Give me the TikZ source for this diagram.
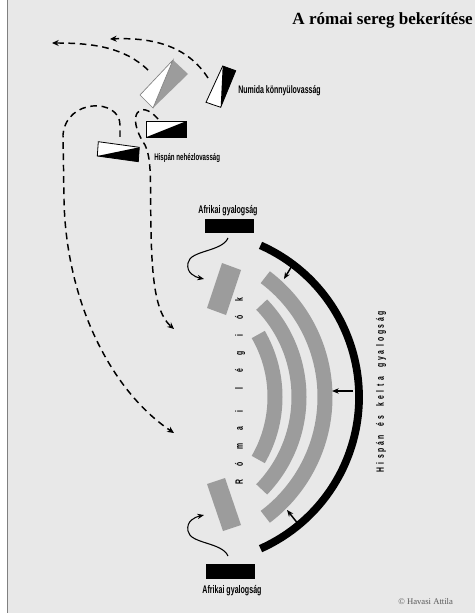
\documentclass[tikz,border=0pt]{standalone}
\usepackage{fontspec}
\setmainfont{Liberation Serif}
\newfontfamily\condfont[FakeStretch=0.64]{Liberation Sans}
\usetikzlibrary{arrows.meta,calc}
\definecolor{bgcol}{HTML}{E8E8E8}
\definecolor{legiongray}{HTML}{9C9C9C}
\newcommand\rl[1]{\makebox[13.3pt]{#1}}
\newcommand\hk[1]{\makebox[4.9pt]{#1}}
\begin{document}
\begin{tikzpicture}[x=0.75pt,y=-0.75pt,
  unitbox/.style={draw=black, line width=0.6pt},
  legion/.style={draw=legiongray, line width=11.25pt},
  march/.style={dash pattern=on 5pt off 3.5pt, line width=1.1pt, -{Stealth[length=5pt,width=4.5pt]}},
  push/.style={line width=1.1pt, -{Stealth[length=5pt,width=4pt]}},
  swing/.style={line width=0.8pt, -{Stealth[length=5pt,width=4pt]}},
  lbl/.style={inner sep=0pt, font=\condfont\bfseries\fontsize{8.2}{9}\selectfont},
  vlbl/.style={inner sep=0pt, rotate=90, font=\condfont\bfseries\fontsize{8}{9}\selectfont}]
\useasboundingbox (0,0) rectangle (475,613);
\fill[white] (0,0) rectangle (475,613);
\fill[bgcol] (7.5,0) rectangle (475,613);
\draw[gray, line width=0.8pt] (7.5,0) -- (7.5,613);

% title
\node[anchor=base east, inner sep=0pt, font=\bfseries\fontsize{12.8}{15}\selectfont] (title) at (473,25) {A római sereg bekerítése};

% big cavalry unit (white/gray)
\coordinate (bpA) at (173,60);
\coordinate (bpB) at (188,74);
\coordinate (bpC) at (153,108);
\coordinate (bpD) at (140,95);
\fill[legiongray] (bpA) -- (bpB) -- (bpC) -- cycle;
\filldraw[fill=white, draw=gray, line width=0.5pt] (bpA) -- (bpD) -- (bpC) -- cycle;

% Numida unit
\coordinate (nuTL) at (222.7,66);
\coordinate (nuTR) at (235.7,70.7);
\coordinate (nuBR) at (220.7,107.3);
\coordinate (nuBL) at (206,102.3);
\fill[white] (nuTL) -- (nuBL) -- (nuBR) -- cycle;
\fill[black] (nuTL) -- (nuTR) -- (nuBR) -- cycle;
\draw[unitbox] (nuTL) -- (nuTR) -- (nuBR) -- (nuBL) -- cycle;
\node[lbl, anchor=west] (numida) at (238,91) {Numida könnyülovasság};

% Hispan heavy cavalry (two units)
\coordinate (h1TL) at (146,121);
\coordinate (h1TR) at (186.7,121);
\coordinate (h1BR) at (186.7,137.3);
\coordinate (h1BL) at (146,137.3);
\fill[white] (h1TL) -- (h1TR) -- (h1BL) -- cycle;
\fill[black] (h1TR) -- (h1BR) -- (h1BL) -- cycle;
\draw[unitbox] (h1TL) -- (h1TR) -- (h1BR) -- (h1BL) -- cycle;

\coordinate (h2TL) at (98.3,141.7);
\coordinate (h2TR) at (139.3,147.3);
\coordinate (h2BR) at (138.3,161.7);
\coordinate (h2BL) at (97.3,156);
\fill[white] (h2TL) -- (h2TR) -- (h2BL) -- cycle;
\fill[black] (h2TR) -- (h2BR) -- (h2BL) -- cycle;
\draw[unitbox] (h2TL) -- (h2TR) -- (h2BR) -- (h2BL) -- cycle;
\node[lbl, anchor=west, font=\condfont\bfseries\fontsize{7.2}{9}\selectfont] (hispcav) at (154,158) {Hispán nehézlovasság};

% cavalry movements
\coordinate (mA0) at (148,70);
\coordinate (mA1) at (52,43);
\draw[march] (mA0) .. controls (125,48) and (95,43) .. (mA1);
\coordinate (mB0) at (208,78);
\coordinate (mB1) at (110,39);
\draw[march] (mB0) .. controls (190,50) and (160,37) .. (mB1);
\coordinate (mC0) at (120,137);
\coordinate (mC1) at (174,433);
\draw[march] (mC0) -- (120,125) .. controls (120,98) and (66,98) .. (63,135) -- (64,200) .. controls (66,300) and (110,390) .. (mC1);
\coordinate (mD0) at (158,119);
\coordinate (mD1) at (174,329);
\draw[march] (mD0) .. controls (140,98) and (125,115) .. (145,145) .. controls (152,160) and (150,180) .. (151,230) .. controls (152,290) and (158,315) .. (mD1);

% African infantry
\node[lbl, anchor=base, font=\condfont\bfseries\fontsize{8.3}{9}\selectfont] (afr1lbl) at (228,213) {Afrikai gyalogság};
\fill[black] (205,219) rectangle (254,233);
\coordinate (afr1) at (229.5,226);
\node[lbl, anchor=base, font=\condfont\bfseries\fontsize{8.3}{9}\selectfont] (afr2lbl) at (232,593) {Afrikai gyalogság};
\fill[black] (206,564) rectangle (255,579);
\coordinate (afr2) at (230.5,571.5);

% Hispanic and Celtic infantry (black arc)
\draw[black, line width=5.8pt] (193,397) ++(-66:166) arc[start angle=-66, end angle=66, radius=166];
\node[vlbl] (hispinf) at (381,391.5) {\hk{H}\hk{i}\hk{s}\hk{p}\hk{á}\hk{n}\hk{ }\hk{é}\hk{s}\hk{ }\hk{k}\hk{e}\hk{l}\hk{t}\hk{a}\hk{ }\hk{g}\hk{y}\hk{a}\hk{l}\hk{o}\hk{g}\hk{s}\hk{á}\hk{g}};

% Roman legions (gray arcs)
\draw[legion] (175,397) ++(-53:150) arc[start angle=-53, end angle=53, radius=150];
\draw[legion] (166,397) ++(-44:133) arc[start angle=-44, end angle=44, radius=133];
\draw[legion] (150,397) ++(-30:125) arc[start angle=-30, end angle=30, radius=125];
\fill[legiongray] (222,263) -- (241,270) -- (226,315) -- (207,308) -- cycle;
\fill[legiongray] (207,484) -- (225,478) -- (241,525) -- (223,531) -- cycle;
\node[vlbl] (legions) at (240,391) {\rl{R}\rl{ó}\rl{m}\rl{a}\rl{i}\hspace{3.7pt}\rl{l}\rl{é}\rl{g}\rl{i}\rl{ó}\rl{k}};

% pressure arrows
\coordinate (p1a) at (293,264);
\coordinate (p1b) at (284,279);
\draw[push] (p1a) -- (p1b);
\coordinate (p2a) at (353,391);
\coordinate (p2b) at (332,391);
\draw[push] (p2a) -- (p2b);
\coordinate (p3a) at (299,525);
\coordinate (p3b) at (287,510);
\draw[push] (p3a) -- (p3b);

% African wheeling arrows
\coordinate (s1a) at (228,238);
\coordinate (s1b) at (204,279);
\draw[swing] (s1a) .. controls (222,252) and (190,250) .. (188,263) .. controls (186,273) and (195,277) .. (s1b);
\coordinate (s2a) at (228,556);
\coordinate (s2b) at (204,515);
\draw[swing] (s2a) .. controls (222,542) and (190,544) .. (188,531) .. controls (186,521) and (195,517) .. (s2b);

% copyright
\node[anchor=base west, inner sep=0pt, text=black!65, font=\fontsize{6.5}{8}\selectfont] (copy) at (398,604) {© Havasi Attila};
\end{tikzpicture}
\end{document}
